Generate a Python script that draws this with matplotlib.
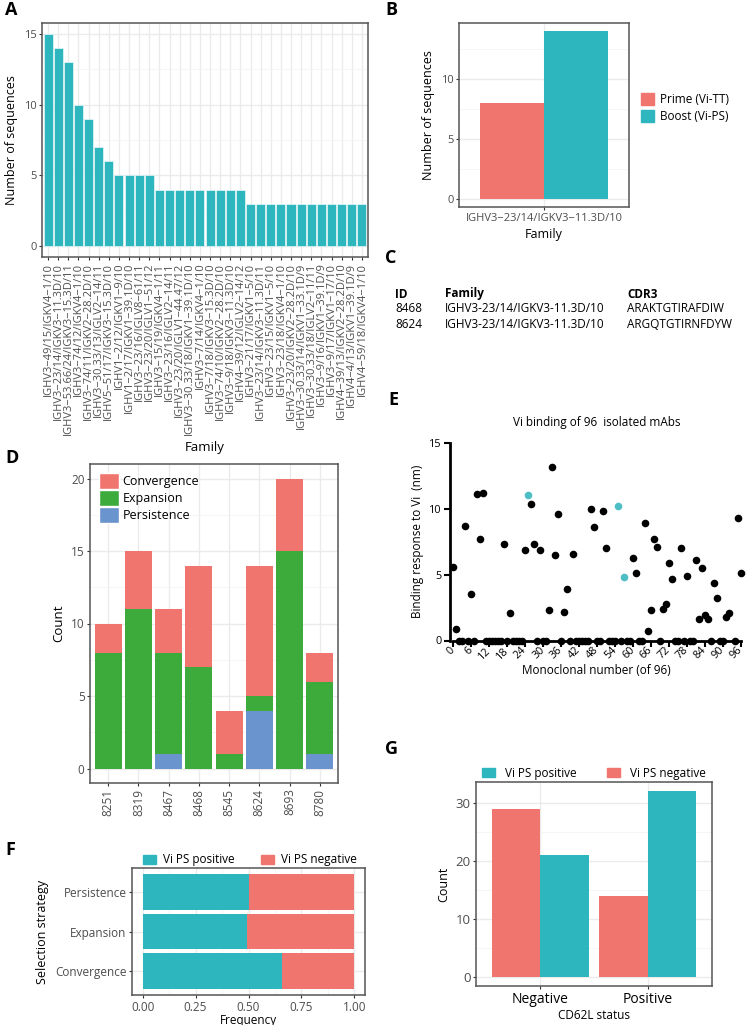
import numpy as np
import matplotlib
matplotlib.use('Agg')
import matplotlib.pyplot as plt
from matplotlib.patches import Patch

plt.rcParams['font.family'] = ['Open Sans', 'DejaVu Sans']

W, H = 749, 1025
teal = '#2DB6BE'
salmon = '#F0756F'
green = '#3DAA3C'
blue = '#6A94CD'
grid_c = '#EBEBEB'
grid_minor = '#F4F4F4'
border_c = '#555555'
tick_c = '#4D4D4D'

# ---- A: families ----
families_a = [
    'IGHV3\u221249/15/IGKV4\u22121/10', 'IGHV3\u221223/14/IGKV3\u221211.3D/10',
    'IGHV3\u221253.66/24/IGKV3\u221215.3D/11', 'IGHV3\u221274/12/IGKV4\u22121/10',
    'IGHV3\u221274/11/IGKV2\u221228.2D/10', 'IGHV3\u221230.33/13/IGLV2\u221214/11',
    'IGHV5\u221251/17/IGKV3\u221215.3D/10', 'IGHV1\u22122/12/IGKV1\u22129/10',
    'IGHV1\u22122/17/IGKV1\u221239.1D/10', 'IGHV3\u221223/16/IGLV8\u221261/11',
    'IGHV3\u221223/20/IGLV1\u221251/12', 'IGHV3\u221215/19/IGKV4\u22121/11',
    'IGHV3\u221223/16/IGLV2\u221214/11', 'IGHV3\u221223/20/IGLV1\u221244.47/12',
    'IGHV3\u221230.33/18/IGKV1\u221239.1D/10', 'IGHV3\u22127/14/IGKV4\u22121/10',
    'IGHV3\u22127/18/IGKV3\u221215.3D/10', 'IGHV3\u221274/10/IGKV2\u221228.2D/10',
    'IGHV3\u22129/18/IGKV3\u221211.3D/10', 'IGHV4\u221239/12/IGLV2\u221214/12',
    'IGHV3\u221221/17/IGKV1\u22125/10', 'IGHV3\u221223/14/IGKV3\u221211.3D/11',
    'IGHV3\u221223/15/IGKV1\u22125/10', 'IGHV3\u221223/18/IGKV4\u22121/10',
    'IGHV3\u221223/20/IGKV2\u221228.2D/10', 'IGHV3\u221230.33/14/IGKV1\u221233.1D/9',
    'IGHV3\u221230.33/18/IGLV2\u221211/11', 'IGHV3\u22129/16/IGKV1\u221239.1D/9',
    'IGHV3\u22129/17/IGKV1\u221217/10', 'IGHV4\u221239/13/IGKV2\u221228.2D/10',
    'IGHV4\u22124/13/IGKV1\u221239.1D/9', 'IGHV4\u221259/18/IGKV4\u22121/10',
]
counts_a = [15, 14, 13, 10, 9, 7, 6, 5, 5, 5, 5, 4, 4, 4, 4, 4, 4, 4, 4, 4,
            3, 3, 3, 3, 3, 3, 3, 3, 3, 3, 3, 3]

# ---- B ----
family_b = 'IGHV3\u221223/14/IGKV3\u221211.3D/10'
groups_b = ['Prime (Vi-TT)', 'Boost (Vi-PS)']
counts_b = [8, 14]

# ---- C ----
table_ids = ['8468', '8624']
table_family = ['IGHV3-23/14/IGKV3-11.3D/10', 'IGHV3-23/14/IGKV3-11.3D/10']
table_cdr3 = ['ARAKTGTIRAFDIW', 'ARGQTGTIRNFDYW']

# ---- D ----
donors_d = ['8251', '8319', '8467', '8468', '8545', '8624', '8693', '8780']
persistence_d = [0, 0, 1, 0, 0, 4, 0, 1]
expansion_d = [8, 11, 7, 7, 1, 1, 15, 5]
convergence_d = [2, 4, 3, 7, 3, 9, 5, 2]

# ---- E ----
mab_black = [0, 1, 4, 6, 8, 9, 10, 17, 19, 24, 26, 27, 29, 32, 33, 34, 35, 37, 38, 40,
             46, 47, 50, 51, 60, 61, 64, 65, 66, 67, 68, 70, 71, 72, 73, 76, 78,
             81, 82, 83, 84, 85, 87, 88, 91, 92, 95, 96]
bind_black = [5.6, 0.9, 8.7, 3.5, 11.1, 7.7, 11.2, 7.3, 2.1, 6.9, 10.4, 7.3, 6.9, 2.3,
              13.2, 6.5, 9.6, 2.2, 3.9, 6.6, 10.0, 8.6, 9.8, 7.0, 6.3, 5.1, 8.9, 0.7,
              2.3, 7.7, 7.1, 2.4, 2.8, 5.9, 4.7, 7.0, 4.9, 6.1, 1.6, 5.5, 1.95, 1.6,
              4.4, 3.2, 1.8, 2.1, 9.3, 5.1]
mab_cyan = [25, 55, 57]
bind_cyan = [11.05, 10.2, 4.8]
mab_zero = [2, 3, 5, 7, 11, 12, 13, 14, 15, 16, 18, 20, 21, 22, 23, 28, 30, 31, 36, 39,
            41, 42, 43, 44, 45, 48, 49, 52, 53, 54, 56, 58, 59, 62, 63, 69, 74, 75, 77,
            79, 80, 86, 89, 90, 94]
bind_zero = [0.0] * len(mab_zero)

# ---- F ----
strategies_f = ['Convergence', 'Expansion', 'Persistence']
freq_pos_f = [0.657, 0.491, 0.5]

# ---- G ----
cd62l_g = ['Negative', 'Positive']
count_neg_g = [29, 14]
count_pos_g = [21, 32]


fig = plt.figure(figsize=(W / 100, H / 100), dpi=100)


def px_axes(l, t, r, b):
    return fig.add_axes([l / W, 1 - b / H, (r - l) / W, (b - t) / H])


def ftxt(x, y, s, **kw):
    fig.text(x / W, 1 - y / H, s, **kw)


def gg_style(ax, labelsize=8):
    ax.set_facecolor('white')
    for s in ax.spines.values():
        s.set_color(border_c)
        s.set_linewidth(1.1)
    ax.tick_params(which='major', length=2.5, width=0.8, color='#333333',
                   labelsize=labelsize, labelcolor=tick_c, pad=1.5)
    ax.tick_params(which='minor', length=0)
    ax.set_axisbelow(True)
    ax.grid(True, which='major', color=grid_c, lw=1.0)
    ax.grid(True, which='minor', color=grid_minor, lw=0.6)


# Panel A
ax = px_axes(42, 23, 368, 257)
xa = np.arange(1, len(counts_a) + 1)
ax.bar(xa, counts_a, width=0.9, color=teal, edgecolor='white', linewidth=0.4)
ax.set_xlim(0.4, len(counts_a) + 0.6)
ax.set_ylim(-0.75, 15.75)
ax.set_yticks([0, 5, 10, 15])
ax.set_yticks([2.5, 7.5, 12.5], minor=True)
ax.set_xticks(xa)
ax.set_xticklabels(families_a, rotation=90, fontsize=6.6)
gg_style(ax)
ax.set_xlabel('Family', fontsize=9.5, labelpad=4)
ax.set_ylabel('Number of sequences', fontsize=9)

# Panel B
ax = px_axes(459, 23, 629, 207)
ax.bar(1 - 0.225, counts_b[0], width=0.45, color=salmon)
ax.bar(1 + 0.225, counts_b[1], width=0.45, color=teal)
ax.set_xlim(0.4, 1.6)
ax.set_ylim(-0.7, 14.7)
ax.set_yticks([0, 5, 10])
ax.set_yticklabels(['0', '5', '10'])
ax.set_yticks([2.5, 7.5, 12.5], minor=True)
ax.set_xticks([1])
ax.set_xticklabels([family_b])
gg_style(ax, labelsize=8)
ax.set_xlabel('Family', fontsize=9, labelpad=3)
ax.set_ylabel('Number of sequences', fontsize=9)
fig.legend(handles=[Patch(color=salmon, label=groups_b[0]),
                    Patch(color=teal, label=groups_b[1])],
           loc='center left', bbox_to_anchor=(630 / W, 1 - 108 / H), frameon=False,
           fontsize=8.5, handlelength=1.1, handleheight=1.1, handletextpad=0.5,
           labelspacing=0.35)

# Panel C table
ftxt(395, 294, 'ID', fontsize=8.5, fontweight='bold', va='center')
ftxt(445, 294, 'Family', fontsize=8.5, fontweight='bold', va='center')
ftxt(627, 294, 'CDR3', fontsize=8.5, fontweight='bold', va='center')
for i in range(len(table_ids)):
    yy = 309 + 15 * i
    ftxt(395, yy, table_ids[i], fontsize=8.5, va='center')
    ftxt(445, yy, table_family[i], fontsize=8.5, va='center')
    ftxt(627, yy, table_cdr3[i], fontsize=8.5, va='center')

# Panel D
ax = px_axes(90, 464, 338, 783)
xd = np.arange(1, len(donors_d) + 1)
pe = np.array(persistence_d)
ex = np.array(expansion_d)
co = np.array(convergence_d)
ax.bar(xd, pe, width=0.9, color=blue)
ax.bar(xd, ex, bottom=pe, width=0.9, color=green)
ax.bar(xd, co, bottom=pe + ex, width=0.9, color=salmon)
ax.set_xlim(0.4, len(donors_d) + 0.6)
ax.set_ylim(-1, 21)
ax.set_yticks([0, 5, 10, 15, 20])
ax.set_yticks([2.5, 7.5, 12.5, 17.5], minor=True)
ax.set_xticks(xd)
ax.set_xticklabels(donors_d, rotation=90)
gg_style(ax, labelsize=8.5)
ax.set_ylabel('Count', fontsize=9.5)
ax.legend(handles=[Patch(facecolor=salmon, edgecolor='white', label='Convergence'),
                   Patch(facecolor=green, edgecolor='white', label='Expansion'),
                   Patch(facecolor=blue, edgecolor='white', label='Persistence')],
          loc='upper left', bbox_to_anchor=(0.0, 1.0), frameon=False, fontsize=9,
          handlelength=1.55, handleheight=1.6, handletextpad=0.3, labelspacing=0.05,
          borderaxespad=0.35)

# Panel E
ax = px_axes(450, 443, 743, 640.5)
ax.scatter(mab_zero, bind_zero, s=30, color='black', clip_on=False, zorder=3, lw=0)
ax.scatter(mab_black, bind_black, s=30, color='black', clip_on=False, zorder=3, lw=0)
ax.scatter(mab_cyan, bind_cyan, s=30, color='#4DBFC4', clip_on=False, zorder=3, lw=0)
ax.set_xlim(-1, 96.7)
ax.set_ylim(0, 15)
ax.set_xticks(np.arange(0, 97, 6))
ax.set_yticks([0, 5, 10, 15])
for s in ['top', 'right']:
    ax.spines[s].set_visible(False)
for s in ['left', 'bottom']:
    ax.spines[s].set_linewidth(2)
ax.spines['bottom'].set_bounds(0, 96)
ax.tick_params(length=4, width=1.5, labelsize=7.8, direction='out', pad=2)
plt.setp(ax.get_xticklabels(), rotation=45, ha='right', va='center',
         rotation_mode='anchor')
ax.set_title('Vi binding of 96  isolated mAbs', fontsize=8.5, pad=12)
ax.set_ylabel('Binding response to Vi  (nm)', fontsize=8.5, labelpad=4)
ax.set_xlabel('Monoclonal number (of 96)', fontsize=8.5, labelpad=2)

# Panel F
ax = px_axes(132, 868, 365, 995)
yf = np.arange(1, len(strategies_f) + 1)
fp = np.array(freq_pos_f)
ax.barh(yf, fp, height=0.9, color=teal)
ax.barh(yf, 1 - fp, left=fp, height=0.9, color=salmon)
ax.set_xlim(-0.05, 1.05)
ax.set_ylim(0.4, len(strategies_f) + 0.6)
ax.set_xticks([0, 0.25, 0.5, 0.75, 1.0])
ax.set_xticklabels(['0.00', '0.25', '0.50', '0.75', '1.00'])
ax.set_xticks([0.125, 0.375, 0.625, 0.875], minor=True)
ax.set_yticks(yf)
ax.set_yticklabels(strategies_f)
gg_style(ax, labelsize=8.5)
ax.set_xlabel('Frequency', fontsize=8.5, labelpad=0)
ax.set_ylabel('Selection strategy', fontsize=9)
fig.legend(handles=[Patch(color=teal, label='Vi PS positive'),
                    Patch(color=salmon, label='Vi PS negative')],
           loc='center', bbox_to_anchor=(250 / W, 1 - 860 / H), ncol=2, frameon=False,
           fontsize=8.5, handlelength=1.1, handleheight=0.9, handletextpad=0.6,
           columnspacing=2.2)

# Panel G
ax = px_axes(476, 782, 712, 986)
xg = np.arange(1, len(cd62l_g) + 1)
ax.bar(xg - 0.225, count_neg_g, width=0.45, color=salmon)
ax.bar(xg + 0.225, count_pos_g, width=0.45, color=teal)
ax.set_xlim(0.4, 2.6)
ax.set_ylim(-1.6, 33.6)
ax.set_yticks([0, 10, 20, 30])
ax.set_yticks([5, 15, 25], minor=True)
ax.set_xticks(xg)
ax.set_xticklabels(cd62l_g, fontsize=10, color='black')
gg_style(ax, labelsize=9.5)
ax.tick_params(axis='x', labelsize=10, labelcolor='black')
ax.set_xlabel('CD62L status', fontsize=8.5, labelpad=2)
ax.set_ylabel('Count', fontsize=9)
fig.legend(handles=[Patch(color=teal, label='Vi PS positive'),
                    Patch(color=salmon, label='Vi PS negative')],
           loc='center', bbox_to_anchor=(594 / W, 1 - 773 / H), ncol=2, frameon=False,
           fontsize=8.5, handlelength=1.1, handleheight=0.9, handletextpad=0.8,
           columnspacing=2.6)

# panel letters
for lab, x, y in [('A', 5, 10), ('B', 385, 10), ('C', 385, 258), ('D', 5, 458),
                  ('E', 388, 400), ('F', 5, 850), ('G', 385, 749)]:
    ftxt(x, y, lab, fontsize=13, fontweight='bold', va='center')

fig.savefig('out.png', dpi=100)
